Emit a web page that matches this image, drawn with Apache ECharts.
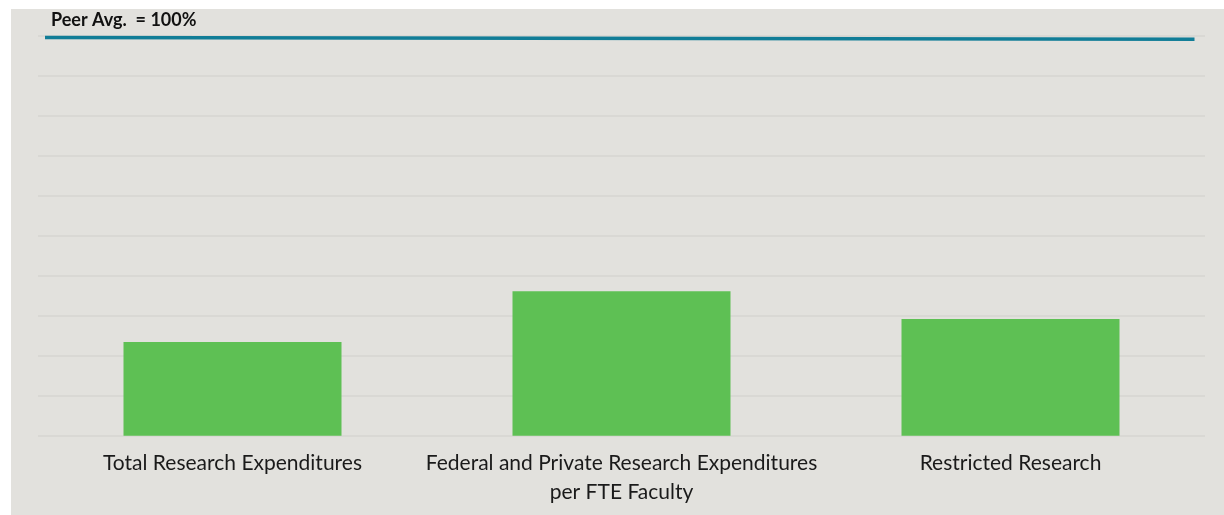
<!DOCTYPE html>
<html>
<head>
<meta charset="utf-8">
<script src="https://cdn.jsdelivr.net/npm/echarts@6/dist/echarts.min.js"></script>
<style>
  html, body { margin: 0; padding: 0; background: #ffffff; }
  #wrap { position: relative; width: 1224px; height: 515px; overflow: hidden; }
  #chart { position: absolute; left: 11px; top: 9px; width: 1213px; height: 506px; }
</style>
</head>
<body>
<div id="wrap"><div id="chart"></div></div>
<script>
// categories and values (% of peer average)
const categories = [
    'Total Research Expenditures',
    'Federal and Private Research Expenditures\nper FTE Faculty',
    'Restricted Research'
];
const values = [23.4, 36.1, 29.2];
// peer average reference line, drawn slightly sloped as in the source
const peerX = [0.006, 0.991];
const peerY = [99.55, 99.1];

const myChart = echarts.init(document.getElementById('chart'));
myChart.setOption({
    backgroundColor: '#e2e1dd',
    animation: false,
    title: {
        text: 'Peer Avg.  = 100%',
        left: 35,
        top: -3,
        textStyle: {
            fontFamily: 'Lato',
            fontSize: 18,
            fontWeight: 'bold',
            color: '#111111'
        }
    },
    grid: { left: 27, right: 19, top: 26.7, bottom: 79.3 },
    xAxis: [
        {
            type: 'category',
            data: categories,
            axisLine: { show: false },
            axisTick: { show: false },
            axisLabel: {
                margin: 13,
                interval: 0,
                fontFamily: 'Lato',
                fontSize: 21,
                lineHeight: 29,
                color: '#1a1a1a'
            }
        },
        { type: 'value', min: 0, max: 1, show: false }
    ],
    yAxis: {
        type: 'value',
        min: 0,
        max: 100,
        interval: 10,
        axisLine: { show: false },
        axisTick: { show: false },
        axisLabel: { show: false },
        splitLine: { lineStyle: { color: '#d6d4d1', width: 1.5 } }
    },
    series: [
        {
            type: 'bar',
            data: values,
            barWidth: 218,
            itemStyle: { color: '#5ec054' }
        },
        {
            type: 'line',
            xAxisIndex: 1,
            data: peerX.map((x, i) => [x, peerY[i]]),
            symbol: 'none',
            lineStyle: { color: '#117d97', width: 3.6 }
        }
    ]
});
</script>
</body>
</html>
